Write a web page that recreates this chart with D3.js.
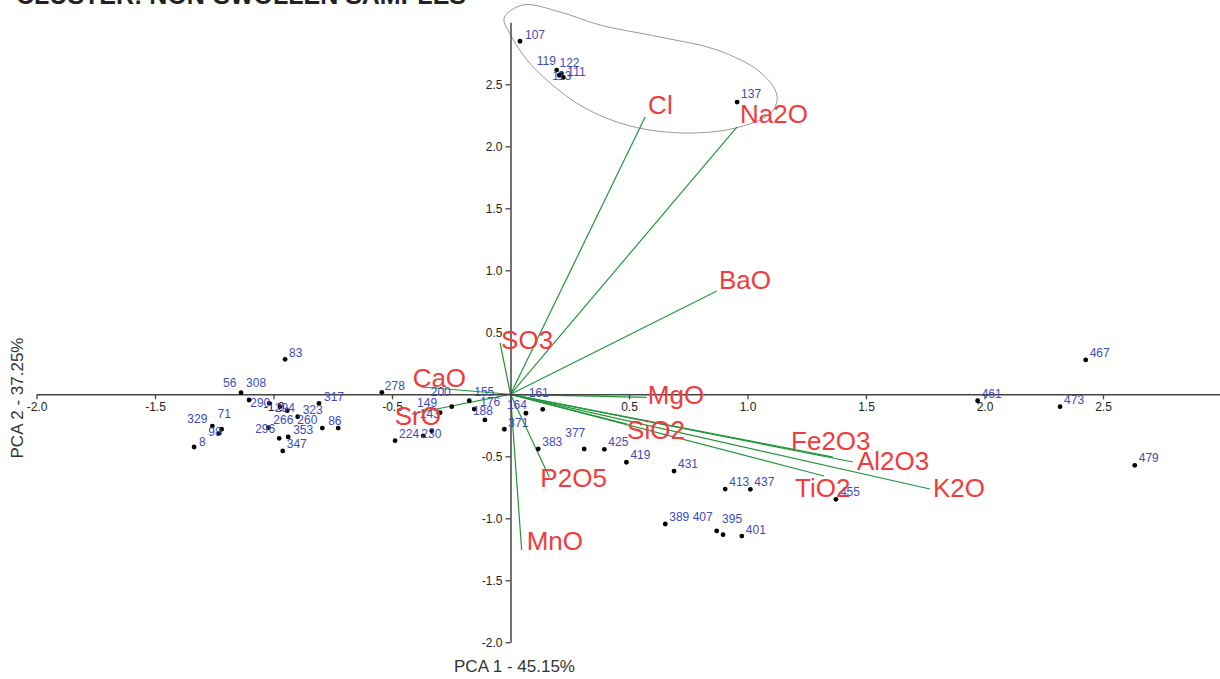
<!DOCTYPE html>
<html>
<head>
<meta charset="utf-8">
<script src="https://cdn.jsdelivr.net/npm/d3@7"></script>
<style>
    body { margin: 0; background: #fff; }
    text { font-family: "Liberation Sans", Arial, sans-serif; }
</style>
</head>
<body>
<div id="chart"></div>
<script>
const [svgW, svgH] = [1220, 679];

// sample scores (PCA 1, PCA 2)
const sampleIds = ['107', '119', '122', '113', '111', '137',
    '83', '56', '308', '290', '294', '284', '323', '260', '86', '317', '266', '296', '353', '347', '329', '71', '98', '8',
    '278', '149', '143', '200', '155', '176', '188', '164', '371', '224', '230', '161',
    '383', '377', '425', '419', '431', '389', '407', '395', '401', '413', '437', '455',
    '461', '467', '473', '479'];
const sampleX = [0.040, 0.195, 0.215, 0.206, 0.223, 0.956,
    -0.951, -1.137, -1.103, -1.018, -0.973, -0.942, -0.898, -0.794, -0.727, -0.808, -1.022, -0.976, -0.938, -0.961, -1.258, -1.219, -1.229, -1.335,
    -0.543, -0.297, -0.332, -0.248, -0.174, -0.153, -0.108, 0.065, -0.026, -0.487, -0.368, 0.136,
    0.117, 0.311, 0.396, 0.489, 0.690, 0.653, 0.870, 0.897, 0.976, 0.906, 1.012, 1.373,
    1.971, 2.427, 2.319, 2.634];
const sampleY = [2.847, 2.615, 2.587, 2.573, 2.556, 2.357,
    0.282, 0.013, -0.046, -0.073, -0.100, -0.132, -0.181, -0.272, -0.272, -0.073, -0.269, -0.355, -0.344, -0.457, -0.256, -0.282, -0.315, -0.425,
    0.016, -0.148, -0.294, -0.100, -0.052, -0.119, -0.207, -0.153, -0.282, -0.374, -0.336, -0.121,
    -0.441, -0.441, -0.444, -0.548, -0.619, -1.046, -1.102, -1.132, -1.143, -0.764, -0.766, -0.847,
    -0.052, 0.277, -0.100, -0.573];

// loadings (variable vectors)
const varNames = ['Cl', 'Na2O', 'BaO', 'SO3', 'CaO', 'SrO', 'MgO', 'SiO2', 'P2O5', 'MnO', 'Fe2O3', 'Al2O3', 'K2O', 'TiO2'];
const varX = [0.568, 0.956, 0.871, -0.044, -0.375, -0.417, 0.575, 0.492, 0.164, 0.047, 1.361, 1.445, 1.770, 1.323];
const varY = [2.236, 2.156, 0.833, 0.414, 0.059, -0.159, -0.024, -0.240, -0.669, -1.256, -0.506, -0.546, -0.764, -0.659];

// outline round the top group
const outlineX = [0.053, -0.027, 0.006, 0.070, 0.167, 0.306, 0.504, 0.745, 0.968, 1.103, 1.124, 1.053, 0.871, 0.631, 0.378, 0.209];
const outlineY = [3.140, 3.035, 2.881, 2.696, 2.511, 2.317, 2.164, 2.107, 2.156, 2.277, 2.414, 2.599, 2.777, 2.881, 2.978, 3.083];

const xTicks = [-2, -1.5, -1, -0.5, 0.5, 1, 1.5, 2, 2.5];
const yTicks = [-2, -1.5, -1, -0.5, 0.5, 1, 1.5, 2, 2.5];

const titleText = 'CLUSTER: NON-SWOLLEN SAMPLES';
const xTitle = 'PCA 1 - 45.15%';
const yTitle = 'PCA 2 - 37.25%';

// label nudges in px (start x, baseline y) from the mark
const sampleNudge = {
    '107': [5, -2], '119': [-20, -5], '122': [-2, -7], '113': [-7, 5], '111': [4, -1], '137': [4, -4],
    '83': [4, -2], '56': [-18, -6], '308': [-3, -13], '290': [-19, 4], '294': [-5, 5], '284': null,
    '323': [5, -3], '260': [-25, -4], '86': [-10, -3], '317': [5, -2], '266': [5, -4], '296': [-24, -5],
    '353': [5, -3], '347': [4, -3], '329': [-25, -3], '71': [-4, -11], '98': [-11, 3], '8': [5, -1],
    '278': [3, -2], '149': [-23, -6], '143': [-12, -13], '200': [-21, -11], '155': [5, -5], '176': [6, -3],
    '188': [-12, -5], '164': [-19, -4], '371': [4, -2], '224': [4, -3], '230': [-2, 2], '161': [-14, -12],
    '377': [-19, -12], '407': [-24, -10], '395': [-1, -12], '401': [4, -2]
};
const varNudge = {
    'Cl': [3, -3], 'Na2O': [3, -4], 'BaO': [2, -2], 'SO3': [1, 6], 'CaO': [-9, 0], 'SrO': [-17, 11],
    'MgO': [1, 7], 'SiO2': [0, 15], 'P2O5': [-9, 10], 'MnO': [5, 0], 'Fe2O3': [-42, -7],
    'Al2O3': [4, 8], 'K2O': [3, 8], 'TiO2': [-29, 21]
};

const x = d3.scaleLinear().domain([-2, 3]).range([36.5, 1221.5]);
const y = d3.scaleLinear().domain([-2, 3]).range([642.3, 22.3]);

function initSVG() {
    return d3.select('#chart').append('svg')
        .attr('width', svgW).attr('height', svgH);
}

function drawTitles(svg) {
    svg.append('text').attr('x', 16).attr('y', 4)
        .attr('font-size', 25).attr('font-weight', 'bold').attr('fill', '#222')
        .text(titleText);
    svg.append('text').attr('x', x(0) + 4).attr('y', 672)
        .attr('text-anchor', 'middle').attr('font-size', 17).attr('fill', '#333')
        .text(xTitle);
    svg.append('text').attr('transform', 'translate(23,398) rotate(-90)')
        .attr('text-anchor', 'middle').attr('font-size', 17).attr('fill', '#333')
        .text(yTitle);
}

function drawAxes(svg) {
    var fmt = d => d.toFixed(1);
    var gx = svg.append('g').attr('transform', `translate(0,${y(0)})`)
        .call(d3.axisBottom(x).tickValues(xTicks).tickFormat(fmt).tickSize(5).tickSizeOuter(0));
    var gy = svg.append('g').attr('transform', `translate(${x(0)},0)`)
        .call(d3.axisLeft(y).tickValues(yTicks).tickFormat(fmt).tickSize(5).tickSizeOuter(0));
    [gx, gy].forEach(g => {
        g.select('.domain').attr('stroke', '#444').attr('stroke-width', 1.5);
        g.selectAll('.tick line').attr('stroke', '#444').attr('stroke-width', 1.3);
        g.selectAll('.tick text').attr('font-size', 12).attr('fill', '#222')
            .attr('font-family', '"Liberation Sans", Arial, sans-serif');
    });
}

function drawOutline(svg) {
    var pts = outlineX.map((v, i) => [x(v), y(outlineY[i])]);
    svg.append('path')
        .attr('d', d3.line().curve(d3.curveCatmullRomClosed)(pts))
        .attr('fill', 'none').attr('stroke', '#999').attr('stroke-width', 1);
}

function drawLoadings(svg) {
    svg.append('g').selectAll('line').data(varNames).join('line')
        .attr('x1', x(0)).attr('y1', y(0))
        .attr('x2', (d, i) => x(varX[i])).attr('y2', (d, i) => y(varY[i]))
        .attr('stroke', '#23963a').attr('stroke-width', 1.2);
}

function drawLoadingLabels(svg) {
    svg.append('g').selectAll('text').data(varNames).join('text')
        .attr('x', (d, i) => x(varX[i]) + varNudge[d][0])
        .attr('y', (d, i) => y(varY[i]) + varNudge[d][1])
        .attr('font-size', 26).attr('fill', '#f03c3c')
        .text(d => d);
}

function drawSamples(svg) {
    var g = svg.append('g');
    g.selectAll('circle').data(sampleIds).join('circle')
        .attr('cx', (d, i) => x(sampleX[i])).attr('cy', (d, i) => y(sampleY[i]))
        .attr('r', 2.4).attr('fill', '#000');
    var labelled = sampleIds.map((d, i) => ({id: d, i: i})).filter(o => sampleNudge[o.id] !== null);
    g.selectAll('text').data(labelled).join('text')
        .attr('x', o => x(sampleX[o.i]) + (sampleNudge[o.id] || [4, -3])[0])
        .attr('y', o => y(sampleY[o.i]) + (sampleNudge[o.id] || [4, -3])[1])
        .attr('font-size', 12).attr('fill', '#3d4bbb')
        .text(o => o.id);
}

function main() {
    var svg = initSVG();
    drawTitles(svg);
    drawOutline(svg);
    drawLoadings(svg);
    drawAxes(svg);
    drawSamples(svg);
    drawLoadingLabels(svg);
}

main();
</script>
</body>
</html>
